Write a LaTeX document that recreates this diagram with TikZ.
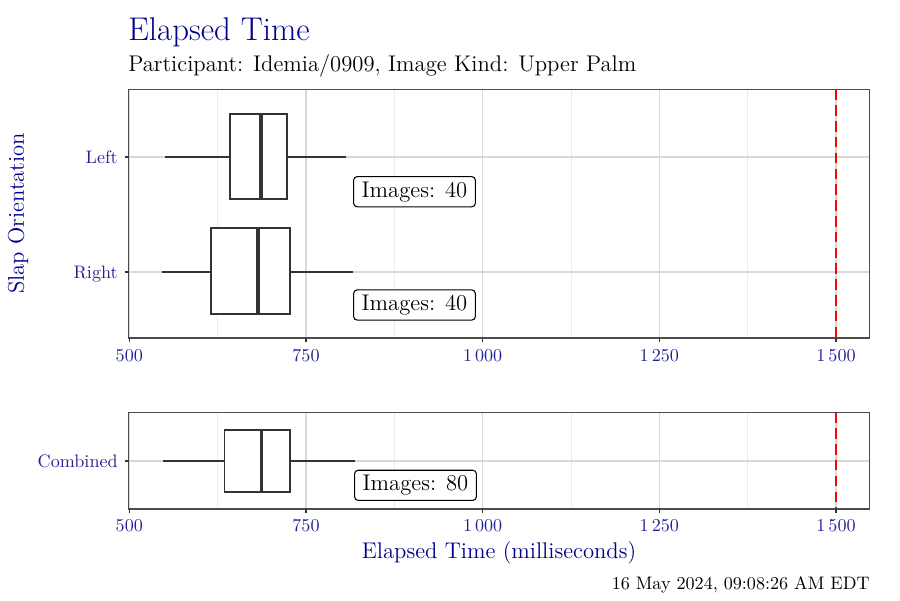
\documentclass[tikz,border=0pt]{standalone}
\usepackage{fontspec}
\definecolor{titleblue}{RGB}{0,0,139}
\definecolor{tickblue}{RGB}{34,34,150}
\definecolor{boxgray}{RGB}{51,51,51}
\tikzset{
  panelframe/.style = {draw = black!70, line width = 0.6pt},
  gridmajor/.style = {draw = black!15, line width = 0.75pt},
  gridminor/.style = {draw = black!8, line width = 0.45pt},
  tickmark/.style = {draw = boxgray, line width = 0.6pt},
  limitline/.style = {draw = red, line width = 1.1pt, dash pattern = on 6pt off 3pt},
  whisker/.style = {draw = boxgray, line width = 1.1pt},
  boxline/.style = {draw = boxgray, line width = 1.1pt, fill = white},
  medianline/.style = {draw = boxgray, line width = 2.2pt},
  countlabel/.style = {draw = black, fill = white, line width = 0.6pt, rounded corners = 2pt,
    inner xsep = 4.6pt, inner ysep = 2.85pt, font = \fontsize{12.9}{15}\selectfont},
  ticklabel/.style = {text = tickblue, inner sep = 0pt, font = \fontsize{10.3}{12}\selectfont},
  axistitle/.style = {text = titleblue, inner sep = 0pt, font = \fontsize{12.9}{15}\selectfont}
}
\begin{document}
\begin{tikzpicture}[x = 0.02cm, y = -0.02cm]
    \useasboundingbox (0, 0) rectangle (900, 600);

    % Titles
    \node[anchor = base west, inner sep = 0pt, text = titleblue, font = \fontsize{18.7}{22}\selectfont] (title) at (128, 40) {Elapsed Time};
    \node[anchor = base west, inner sep = 0pt, font = \fontsize{12.9}{15}\selectfont] (subtitle) at (128, 71) {Participant: Idemia/0909, Image Kind: Upper Palm};

    % Top panel grid
    \fill[white] (128.5, 89.5) rectangle (869.5, 338);
    \draw[gridminor] (217.6, 89.5) -- (217.6, 338);
    \draw[gridminor] (394.3, 89.5) -- (394.3, 338);
    \draw[gridminor] (571, 89.5) -- (571, 338);
    \draw[gridminor] (747.7, 89.5) -- (747.7, 338);
    \draw[gridmajor] (129.3, 89.5) -- (129.3, 338);
    \draw[gridmajor] (306, 89.5) -- (306, 338);
    \draw[gridmajor] (482.7, 89.5) -- (482.7, 338);
    \draw[gridmajor] (659.3, 89.5) -- (659.3, 338);
    \draw[gridmajor] (836, 89.5) -- (836, 338);
    \draw[gridmajor] (128.5, 157) -- (869.5, 157); % left
    \draw[gridmajor] (128.5, 272) -- (869.5, 272); % right

    % Bottom panel grid
    \fill[white] (128.5, 412.5) rectangle (869.5, 509);
    \draw[gridminor] (217.6, 412.5) -- (217.6, 509);
    \draw[gridminor] (394.3, 412.5) -- (394.3, 509);
    \draw[gridminor] (571, 412.5) -- (571, 509);
    \draw[gridminor] (747.7, 412.5) -- (747.7, 509);
    \draw[gridmajor] (129.3, 412.5) -- (129.3, 509);
    \draw[gridmajor] (306, 412.5) -- (306, 509);
    \draw[gridmajor] (482.7, 412.5) -- (482.7, 509);
    \draw[gridmajor] (659.3, 412.5) -- (659.3, 509);
    \draw[gridmajor] (836, 412.5) -- (836, 509);
    \draw[gridmajor] (128.5, 461) -- (869.5, 461); % combined

    % Limit lines
    \draw[limitline] (836, 89.5) -- (836, 338);
    \draw[limitline] (836, 412.5) -- (836, 509);

    % Boxplots
    \draw[whisker] (165, 157) -- (345.7, 157); % left
    \draw[boxline] (230.3, 114) rectangle (286.7, 199.3);
    \draw[medianline] (260.7, 114) -- (260.7, 199.3);
    \draw[whisker] (161.7, 272) -- (353.3, 272); % right
    \draw[boxline] (211.3, 228) rectangle (290.3, 313.7);
    \draw[medianline] (258.3, 228) -- (258.3, 313.7);
    \draw[whisker] (163, 461) -- (355, 461); % combined
    \draw[boxline] (224.5, 429.7) rectangle (290, 492);
    \draw[medianline] (261.5, 429.7) -- (261.5, 492);

    % Count labels
    \node[countlabel] (countleft) at (414.5, 191.7) {Images: 40};
    \node[countlabel] (countright) at (414.5, 305) {Images: 40};
    \node[countlabel] (countall) at (415.5, 485.3) {Images: 80};

    % Panel borders
    \draw[panelframe] (128.5, 89.5) rectangle (869.5, 338);
    \draw[panelframe] (128.5, 412.5) rectangle (869.5, 509);

    % Ticks
    \draw[tickmark] (129.3, 338) -- (129.3, 342);
    \draw[tickmark] (306, 338) -- (306, 342);
    \draw[tickmark] (482.7, 338) -- (482.7, 342);
    \draw[tickmark] (659.3, 338) -- (659.3, 342);
    \draw[tickmark] (836, 338) -- (836, 342);
    \draw[tickmark] (129.3, 509) -- (129.3, 513);
    \draw[tickmark] (306, 509) -- (306, 513);
    \draw[tickmark] (482.7, 509) -- (482.7, 513);
    \draw[tickmark] (659.3, 509) -- (659.3, 513);
    \draw[tickmark] (836, 509) -- (836, 513);
    \draw[tickmark] (124.5, 157) -- (128.5, 157);
    \draw[tickmark] (124.5, 272) -- (128.5, 272);
    \draw[tickmark] (124.5, 461) -- (128.5, 461);

    % Tick labels
    \node[ticklabel, anchor = base] (xa500) at (129.3, 361) {500};
    \node[ticklabel, anchor = base] (xa750) at (306, 361) {750};
    \node[ticklabel, anchor = base] (xa1000) at (482.7, 361) {1\,000};
    \node[ticklabel, anchor = base] (xa1250) at (659.3, 361) {1\,250};
    \node[ticklabel, anchor = base] (xa1500) at (836, 361) {1\,500};
    \node[ticklabel, anchor = base] (xb500) at (129.3, 531) {500};
    \node[ticklabel, anchor = base] (xb750) at (306, 531) {750};
    \node[ticklabel, anchor = base] (xb1000) at (482.7, 531) {1\,000};
    \node[ticklabel, anchor = base] (xb1250) at (659.3, 531) {1\,250};
    \node[ticklabel, anchor = base] (xb1500) at (836, 531) {1\,500};
    \node[ticklabel, anchor = base east] (yleft) at (118, 163.6) {Left};
    \node[ticklabel, anchor = base east] (yright) at (118, 278) {Right};
    \node[ticklabel, anchor = base east] (ycombined) at (118, 467.3) {Combined};

    % Axis titles
    \node[axistitle, anchor = base] (xtitle) at (499, 558) {Elapsed Time (milliseconds)};
    \node[axistitle, anchor = base, rotate = 90] (ytitle) at (24, 213.5) {Slap Orientation};

    % Timestamp
    \node[anchor = base east, inner sep = 0pt, font = \fontsize{10.3}{12}\selectfont] (stamp) at (870, 589) {16 May 2024, 09:08:26 AM EDT};
\end{tikzpicture}
\end{document}
